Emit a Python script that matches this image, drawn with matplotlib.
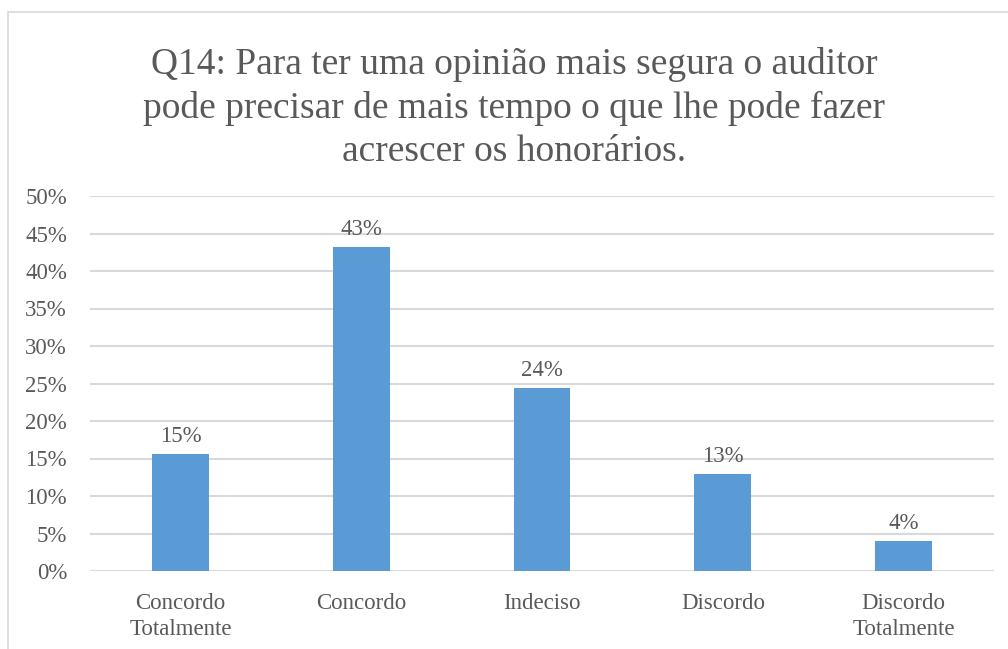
import numpy as np
import matplotlib.pyplot as plt
from matplotlib.patches import Rectangle
from matplotlib.ticker import PercentFormatter

categories = ["Concordo\nTotalmente", "Concordo", "Indeciso", "Discordo", "Discordo\nTotalmente"]
values = [15.6, 43.2, 24.4, 13.0, 4.0]
labels = ["15%", "43%", "24%", "13%", "4%"]
title = ("Q14: Para ter uma opinião mais segura o auditor\n"
         "pode precisar de mais tempo o que lhe pode fazer\n"
         "acrescer os honorários.")

plt.rcParams['font.family'] = ['Liberation Serif', 'DejaVu Serif']
txt = '#595959'

fig = plt.figure(figsize=(10.08, 6.49), dpi=100)
fig.patches.append(Rectangle((8 / 1008, -0.01), 1.1, 1 - 12 / 649 + 0.01, transform=fig.transFigure,
                             fill=False, edgecolor='#d9d9d9', linewidth=1.2))
ax = fig.add_axes([90 / 1008, 1 - 571 / 649, (994 - 90) / 1008, (571 - 196) / 649])

x = np.arange(len(categories))
bars = ax.bar(x, values, width=0.315, color='#5B9BD5', zorder=3)
for xi, v, lab in zip(x, values, labels):
    ax.text(xi, v + 0.9, lab, ha='center', va='bottom', fontsize=16.5, color=txt)

ax.set_xlim(-0.5, len(categories) - 0.5)
ax.set_ylim(0, 50)
ax.set_yticks(np.arange(0, 51, 5))
ax.yaxis.set_major_formatter(PercentFormatter(decimals=0))
ax.set_xticks(x)
ax.set_xticklabels(categories, fontsize=16.5, color=txt, linespacing=1.3)
ax.tick_params(axis='y', labelsize=16.5, labelcolor=txt, length=0, pad=16.5)
ax.tick_params(axis='x', length=0, pad=16)
ax.grid(axis='y', color='#d9d9d9', linewidth=1.5, zorder=0)
for s in ax.spines.values():
    s.set_visible(False)

fig.text(0.51, 1 - 108 / 649, title, ha='center', va='center', fontsize=27, color=txt, linespacing=1.32)

fig.savefig('out.png', dpi=100)
